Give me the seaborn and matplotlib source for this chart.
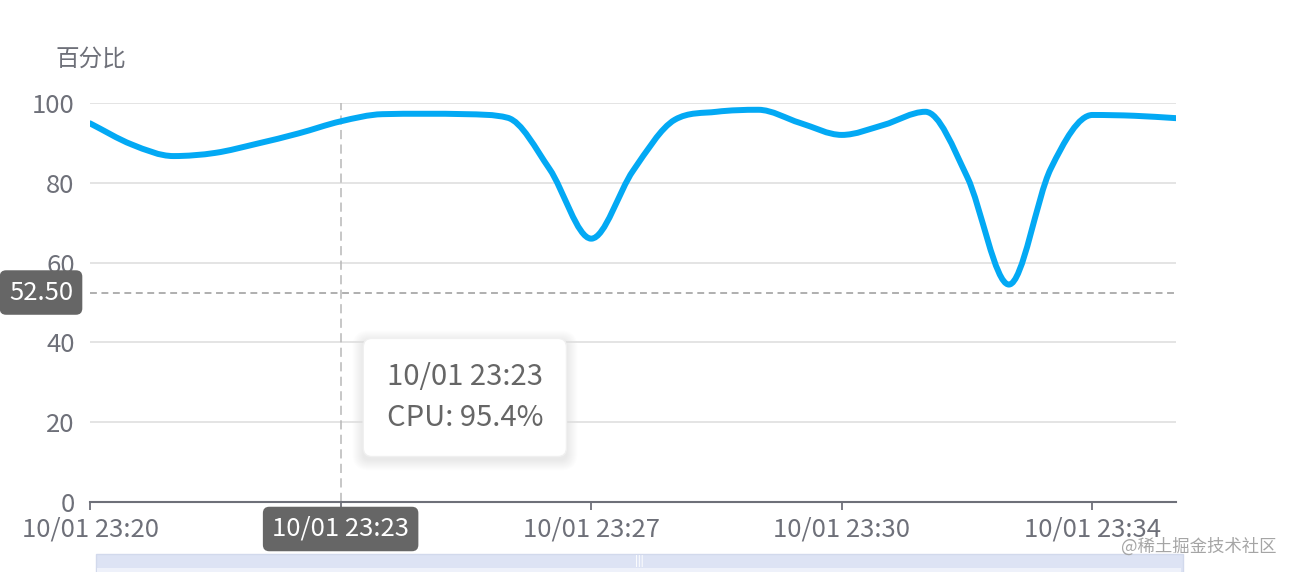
import matplotlib.pyplot as plt
import numpy as np
import pandas as pd
import seaborn as sns
from matplotlib.patches import FancyBboxPatch, PathPatch, Rectangle
from matplotlib.path import Path

# Data (one sample every 35 s)
times = ['23:20:00', '23:20:35', '23:21:10', '23:21:45', '23:22:20', '23:22:55',
         '23:23:30', '23:24:05', '23:24:40', '23:25:15', '23:25:50', '23:26:25',
         '23:27:00', '23:27:35', '23:28:10', '23:28:45', '23:29:20', '23:29:55',
         '23:30:30', '23:31:05', '23:31:40', '23:32:15', '23:32:50', '23:33:25',
         '23:34:00', '23:34:35', '23:35:10']
cpu = [94.9, 89.6, 86.7, 87.5, 89.8, 92.4,
       95.4, 97.2, 97.3, 97.2, 96.3, 83.5,
       66.0, 83.0, 95.8, 97.8, 98.3, 95.0,
       92.0, 94.5, 97.8, 81.5, 54.5, 83.5,
       97.0, 96.8, 96.2]
tick_labels = ['10/01 23:20', '10/01 23:23', '10/01 23:27', '10/01 23:30', '10/01 23:34']
y_ticks = [0, 20, 40, 60, 80, 100]
mark_value = 52.50
pointer_index = 6
pointer_label = '10/01 23:23'

df = pd.DataFrame({'time': pd.to_datetime(times, format='%H:%M:%S'), 'cpu': cpu})
df['minute'] = (df['time'] - df['time'].iloc[0]).dt.total_seconds() / 60

sns.set_theme(style='white')
plt.rcParams['font.family'] = ['Noto Sans CJK SC', 'DejaVu Sans']

grey = '#6E7079'
blue = '#03A9F4'
fs = 18.5

fig = plt.figure(figsize=(12.96, 5.72), dpi=100)
ax = fig.add_axes([90 / 1296, 70 / 572, 1086 / 1296, 399 / 572])
ax.set_xlim(df['minute'].min(), df['minute'].max())
ax.set_ylim(0, 100)


def smooth_path(x, y):
    # smooth line through the data points as bezier segments, flat at peaks/troughs
    x = np.asarray(x, dtype=float)
    y = np.asarray(y, dtype=float)
    h = np.diff(x)
    d = np.diff(y) / h
    m = np.zeros_like(y)
    m[0], m[-1] = d[0], d[-1]
    for k in range(1, len(y) - 1):
        if d[k - 1] * d[k] > 0:
            lim = 3 * min(abs(d[k - 1]), abs(d[k]))
            m[k] = np.clip((d[k - 1] + d[k]) / 2, -lim, lim)
    verts = [(x[0], y[0])]
    codes = [Path.MOVETO]
    for k in range(len(h)):
        t = h[k] / 3
        verts += [(x[k] + t, y[k] + m[k] * t),
                  (x[k + 1] - t, y[k + 1] - m[k + 1] * t),
                  (x[k + 1], y[k + 1])]
        codes += [Path.CURVE4] * 3
    return Path(verts, codes)


ax.add_patch(PathPatch(smooth_path(df['minute'], df['cpu']), fill=False,
                       edgecolor=blue, linewidth=4.3, capstyle='round',
                       joinstyle='round', zorder=4))

# grid + axes styling
ax.set_yticks(y_ticks)
ax.set_xticks(df['minute'][::6])
ax.set_xticklabels(tick_labels)
ax.grid(axis='y', color='#DCDCDC', linewidth=1.1)
ax.grid(axis='x', visible=False)
sns.despine(ax=ax, left=True)
ax.spines['bottom'].set_color(grey)
ax.spines['bottom'].set_linewidth(1.5)
ax.spines['bottom'].set_zorder(5)
ax.tick_params(axis='y', length=0, pad=11, labelsize=fs, labelcolor=grey)
ax.tick_params(axis='x', bottom=True, length=6, width=1.3, color=grey, pad=4.5,
               labelsize=fs, labelcolor=grey)
ax.set_xlabel('')
ax.set_ylabel('')

# crosshair + mark line
x_ptr = df['minute'][pointer_index]
ax.axvline(x_ptr, color='#B8B8B8', linewidth=1.1, dashes=(6, 3.5), zorder=3)
ax.axhline(mark_value, color='#9A9A9A', linewidth=1.1, dashes=(4.5, 3), zorder=3)

box = dict(boxstyle='round,pad=0.36,rounding_size=0.25', fc='#666666', ec='none')
ax.annotate(f'{mark_value:.2f}', xy=(0, mark_value), xycoords=('axes fraction', 'data'),
            xytext=(-49 * 0.72, 0), textcoords='offset points', ha='center', va='center',
            fontsize=fs, color='white', annotation_clip=False, zorder=10, bbox=box)
ax.annotate(pointer_label, xy=(x_ptr, 0), xycoords=('data', 'axes fraction'),
            xytext=(0, -27 * 0.72), textcoords='offset points', ha='center', va='center',
            fontsize=fs, color='white', annotation_clip=False, zorder=10, bbox=box)

# tooltip
tip = f'{pointer_label}\nCPU: {df["cpu"][pointer_index]}%'
tip_text = ax.annotate(tip, xy=(x_ptr, 0.262), xycoords=('data', 'axes fraction'),
                       xytext=(46 * 0.72, 0), textcoords='offset points', ha='left',
                       va='center', fontsize=21, color='#666666', linespacing=1.5,
                       zorder=9,
                       bbox=dict(boxstyle='round,pad=0.8,rounding_size=0.3', fc='white',
                                 ec='#F0F0F0'))

# soft shadow behind the tooltip
fig.canvas.draw()
bb = tip_text.get_bbox_patch().get_window_extent(fig.canvas.get_renderer())
for k in range(1, 12):
    fig.add_artist(FancyBboxPatch((bb.x0 - k, bb.y0 - k - 3), bb.width + 2 * k,
                                  bb.height + 2 * k,
                                  boxstyle=f'round,pad=0,rounding_size={6 + k}',
                                  transform=None, fc=(0, 0, 0, 0.009), ec='none',
                                  zorder=-1))
ax.set_zorder(1)
ax.patch.set_alpha(0)

# axis name
fig.text(55 / 1296, 1 - 59 / 572, '百分比', ha='left', va='center', fontsize=17, color=grey)

# data zoom slider
fig.add_artist(Rectangle((96 / 1296, 0), (1183 - 96) / 1296, 18 / 572,
                         transform=fig.transFigure, fc='#DDE3F4', ec='#D2D9EC', lw=1))
fig.add_artist(Rectangle((97 / 1296, 0), (1181 - 97) / 1296, 4 / 572,
                         transform=fig.transFigure, fc='#EEF1FA', ec='none'))
fig.text(639 / 1296, 1 - 561 / 572, '|||', ha='center', va='center', fontsize=7,
         color='white', fontweight='bold')

# watermark
fig.text(1277 / 1296, 1 - 547 / 572, '@稀土掘金技术社区', ha='right', va='center',
         fontsize=12.5, color='#A5A5A5')

fig.savefig('out.png', dpi=100)
